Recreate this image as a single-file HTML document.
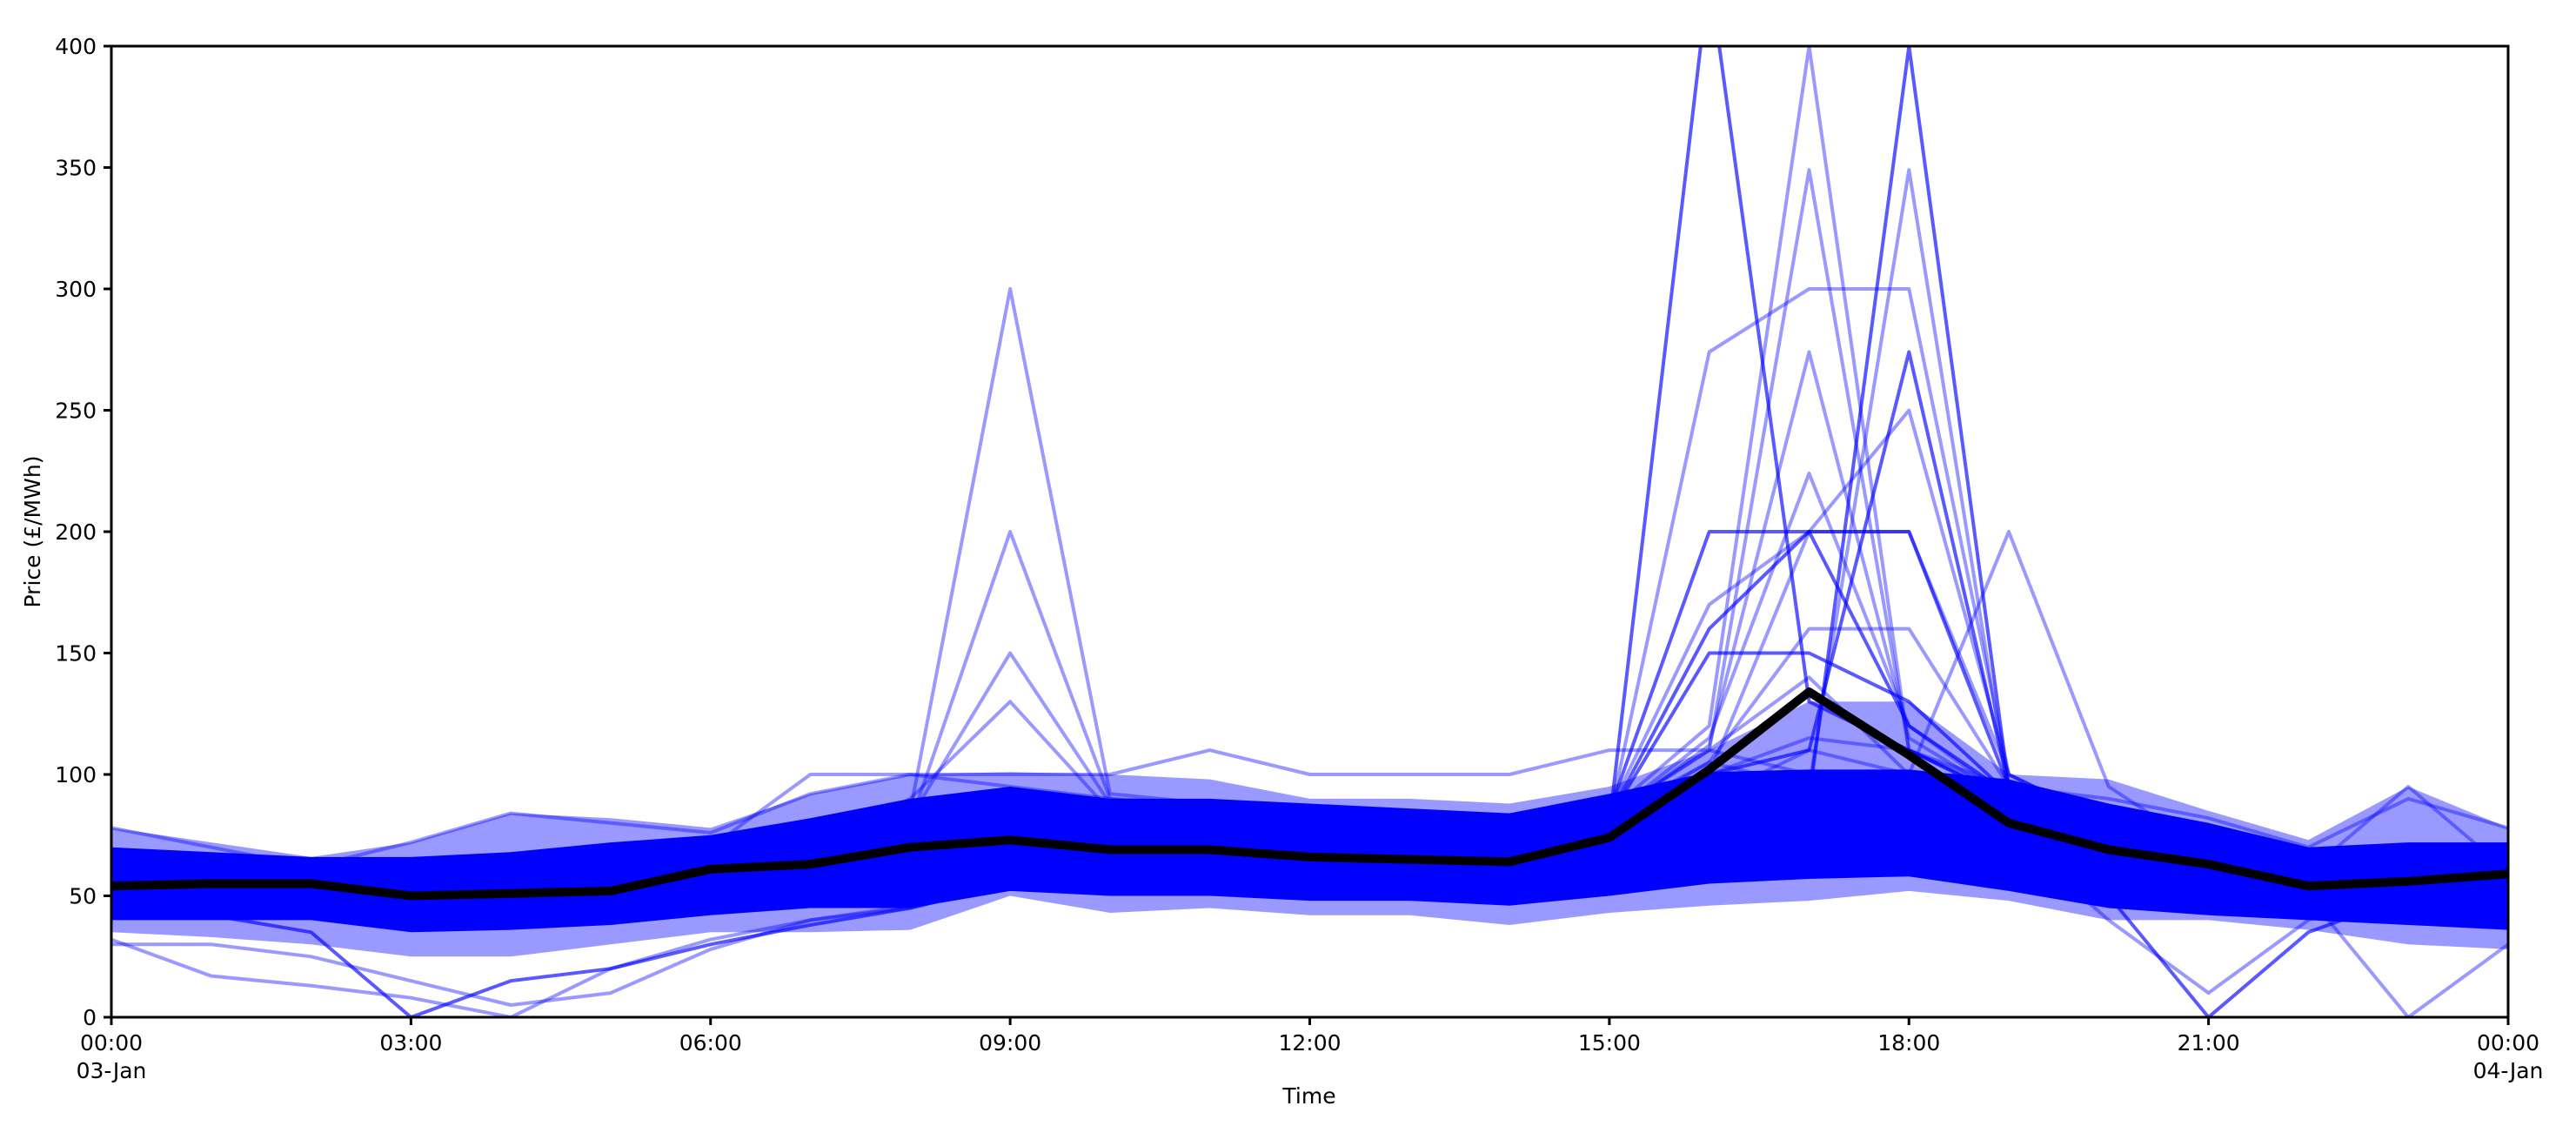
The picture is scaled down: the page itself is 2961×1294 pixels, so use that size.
<!DOCTYPE html>
<html><head><meta charset="utf-8">
<style>
html,body{margin:0;padding:0;background:#fff;}
svg{display:block;font-family:"DejaVu Sans","Liberation Sans",sans-serif;}
</style></head>
<body>
<svg id="chart" width="2961" height="1294" viewBox="0 0 2961 1294" xmlns="http://www.w3.org/2000/svg">
<defs><clipPath id="plotclip"><rect x="128" y="53" width="2755" height="1116"/></clipPath></defs>
<rect x="0" y="0" width="2961" height="1294" fill="#fff"/>
<g id="bands" clip-path="url(#plotclip)"></g>
<g id="lines" clip-path="url(#plotclip)"></g>
<g id="meanG" clip-path="url(#plotclip)"></g>
<g id="axes"></g>
<text x="1505" y="1268" font-size="25" text-anchor="middle">Time</text>
<text transform="translate(46,611) rotate(-90)" font-size="25" text-anchor="middle">Price (£/MWh)</text>
</svg>
<script>
const hours = [0,1,2,3,4,5,6,7,8,9,10,11,12,13,14,15,16,17,18,19,20,21,22,23,24];
const yTicks = [0,50,100,150,200,250,300,350,400];
const xTickHours = [0,3,6,9,12,15,18,21,24];
const xTickLabels = ["00:00","03:00","06:00","09:00","12:00","15:00","18:00","21:00","00:00"];
const xTickSub = ["03-Jan","","","","","","","","04-Jan"];
const meanPrice = [54,55,55,50,51,52,61,63,70,73,69,69,66,65,64,74,102,134,108,80,69,63,54,56,59];
const coreLow  = [40,40,40,35,36,38,42,45,45,52,50,50,48,48,46,50,55,57,58,52,45,42,40,38,36];
const coreHigh = [70,68,66,66,68,72,75,82,90,95,90,90,88,86,84,92,101,102,102,98,88,80,70,72,72];
const outerLow  = [35,33,30,25,25,30,35,35,36,50,43,45,42,42,38,43,46,48,52,48,40,40,36,30,28];
const outerHigh = [78,72,66,72,84,82,78,92,100,101,100,98,90,90,88,95,110,130,130,100,98,85,73,95,78];
const lineA = [60,60,58,55,56,58,62,70,85,300,92,88,80,78,76,80,90,110,100,85,75,68,60,62,60];
const lineB = [55,56,55,52,53,55,60,68,80,200,90,85,78,75,74,78,88,100,95,80,72,65,58,60,58];
const lineC = [58,58,56,54,55,57,63,70,82,150,88,84,76,74,72,77,85,95,92,80,70,64,57,58,57];
const lineD = [57,57,55,53,54,56,62,69,90,130,85,82,75,73,71,76,84,92,90,78,69,63,56,57,56];
const lineE = [62,60,58,58,60,62,70,100,100,100,100,110,100,100,100,110,110,140,100,90,80,70,62,65,62];
const lineF = [60,58,57,55,56,58,64,72,80,85,80,80,78,76,75,80,430,130,110,90,75,68,60,60,58];
const lineG = [58,57,56,54,55,57,62,70,78,84,80,79,77,75,74,82,274,300,300,100,80,70,60,61,59];
const lineH = [57,56,55,53,54,56,61,68,77,83,79,78,76,74,72,85,120,400,110,92,78,68,58,60,58];
const lineI = [56,56,55,52,53,55,60,67,76,82,78,77,75,73,71,80,100,90,400,95,78,68,57,59,57];
const lineJ = [59,58,57,54,55,57,63,70,79,85,81,80,78,76,74,84,110,349,110,90,76,67,58,60,58];
const lineK = [58,57,56,53,54,56,62,69,78,84,80,79,77,75,73,83,105,95,349,92,77,67,58,60,58];
const lineL = [57,56,55,52,53,55,61,68,77,83,79,78,76,74,72,82,112,274,115,90,76,66,57,59,57];
const lineM = [56,55,54,51,52,54,60,67,76,82,78,77,75,73,71,81,100,110,274,95,77,66,56,58,56];
const lineN = [58,57,56,53,54,56,62,69,78,84,80,79,77,75,73,83,115,224,120,90,76,67,58,60,58];
const lineO = [59,58,57,54,55,57,63,70,79,85,81,80,78,76,74,85,200,200,200,95,78,68,58,60,58];
const lineP = [57,56,55,52,53,55,61,68,77,83,79,78,76,74,72,82,100,200,250,100,80,68,57,59,57];
const lineQ = [58,57,56,53,54,56,62,69,78,84,80,79,77,75,73,83,160,200,120,92,77,67,58,60,58];
const lineR = [56,55,54,51,52,54,60,67,76,82,78,77,75,73,71,81,105,160,160,95,78,66,56,58,56];
const lineS = [57,56,55,52,53,55,61,68,77,83,79,78,76,74,72,82,150,150,130,92,76,66,57,59,57];
const lineT = [58,57,56,53,54,56,62,69,78,84,80,79,77,75,73,83,110,100,100,200,95,68,58,60,58];
const lineU = [60,58,57,54,55,57,63,70,79,85,81,80,78,76,74,85,170,200,200,100,80,68,58,60,58];
const lineV = [30,30,25,15,5,10,28,40,45,55,52,52,50,50,48,52,58,62,64,58,50,46,42,40,38];
const lineW = [32,17,13,8,0,20,32,40,46,56,52,52,50,50,48,52,58,62,64,58,50,46,42,40,38];
const lineX = [45,42,35,0,15,20,30,38,45,55,52,52,50,50,48,52,58,62,64,58,50,46,42,40,38];
const lineY = [62,60,58,55,56,58,62,68,75,80,76,75,72,70,68,75,85,90,88,80,50,0,35,50,45];
const lineZ = [60,58,56,54,55,57,60,66,72,78,74,73,70,68,66,72,80,85,84,76,40,10,40,55,50];
const lineAA = [58,57,56,53,54,56,60,66,72,78,74,73,70,68,66,72,80,85,84,76,66,58,50,0,30];
const lineAB = [60,58,57,54,55,57,61,67,73,79,75,74,71,69,67,73,82,88,86,78,68,60,60,95,60];
const lineAC = [78,70,62,72,84,80,76,92,100,95,90,88,86,84,82,90,100,115,110,95,90,82,70,90,78];

const allLines = [lineA,lineB,lineC,lineD,lineE,lineF,lineG,lineH,lineI,lineJ,lineK,lineL,lineM,lineN,lineO,lineP,lineQ,lineR,lineS,lineT,lineU,lineV,lineW,lineX,lineY,lineZ,lineAA,lineAB,lineAC];
const darkLines = [lineF,lineI,lineM,lineO,lineQ,lineS,lineX,lineY];

const X0=128, X1=2883, Y0=1169, Y1=53, HMAX=24, VMAX=400;
const NS="http://www.w3.org/2000/svg";
function xs(h){return X0+(X1-X0)*h/HMAX;}
function ys(v){return Y0-(Y0-Y1)*v/VMAX;}
function pts(arr){return arr.map((v,i)=>xs(hours[i]).toFixed(1)+","+ys(v).toFixed(1)).join(" ");}
function mk(tag,parent){const e=document.createElementNS(NS,tag);parent.appendChild(e);return e;}

const bands=document.getElementById('bands');
function band(lo,hi,fill,name){
  const p=mk('polygon',bands);
  const up=hi.map((v,i)=>xs(hours[i]).toFixed(1)+","+ys(v).toFixed(1));
  const dn=lo.map((v,i)=>xs(hours[i]).toFixed(1)+","+ys(v).toFixed(1)).reverse();
  p.setAttribute('points',up.concat(dn).join(" "));
  p.setAttribute('fill',fill);
  
  
}
band(outerLow,outerHigh,'#9999ff','outer-price-band');
band(coreLow,coreHigh,'#0000ff','core-price-band');

const lg=document.getElementById('lines');
allLines.forEach((arr,k)=>{
  const pl=mk('polyline',lg);
  pl.setAttribute('points',pts(arr));
  pl.setAttribute('fill','none');
  pl.setAttribute('stroke','#0000ff');
  pl.setAttribute('stroke-opacity',darkLines.includes(arr)?'0.65':'0.4');
  pl.setAttribute('stroke-width','4');
  pl.setAttribute('stroke-linejoin','round');
  
  
});

const mg=document.getElementById('meanG');
const ml=mk('polyline',mg);
ml.setAttribute('points',pts(meanPrice));
ml.setAttribute('fill','none');
ml.setAttribute('stroke','#000');
ml.setAttribute('stroke-width','10');
ml.setAttribute('stroke-linejoin','round');



const ax=document.getElementById('axes');
const fr=mk('rect',ax);
fr.setAttribute('x',X0);fr.setAttribute('y',Y1);fr.setAttribute('width',X1-X0);fr.setAttribute('height',Y0-Y1);
fr.setAttribute('fill','none');fr.setAttribute('stroke','#000');fr.setAttribute('stroke-width','3');


yTicks.forEach(v=>{
  const t=mk('line',ax);
  t.setAttribute('x1',X0-9);t.setAttribute('x2',X0);t.setAttribute('y1',ys(v));t.setAttribute('y2',ys(v));
  t.setAttribute('stroke','#000');t.setAttribute('stroke-width','3');
  
  
  const l=mk('text',ax);
  l.setAttribute('x',X0-17);l.setAttribute('y',ys(v)+9);l.setAttribute('font-size','25');l.setAttribute('text-anchor','end');
  l.textContent=v;
  
  
});
xTickHours.forEach((h,i)=>{
  const t=mk('line',ax);
  t.setAttribute('x1',xs(h));t.setAttribute('x2',xs(h));t.setAttribute('y1',Y0);t.setAttribute('y2',Y0+9);
  t.setAttribute('stroke','#000');t.setAttribute('stroke-width','3');
  
  
  const l=mk('text',ax);
  l.setAttribute('x',xs(h));l.setAttribute('y',Y0+38);l.setAttribute('font-size','25');l.setAttribute('text-anchor','middle');
  l.textContent=xTickLabels[i];
  
  
  if(xTickSub[i]){
    const s=mk('text',ax);
    s.setAttribute('x',xs(h));s.setAttribute('y',Y0+70);s.setAttribute('font-size','25');s.setAttribute('text-anchor','middle');
    s.textContent=xTickSub[i];
    
    
  }
});
</script>
</body></html>
